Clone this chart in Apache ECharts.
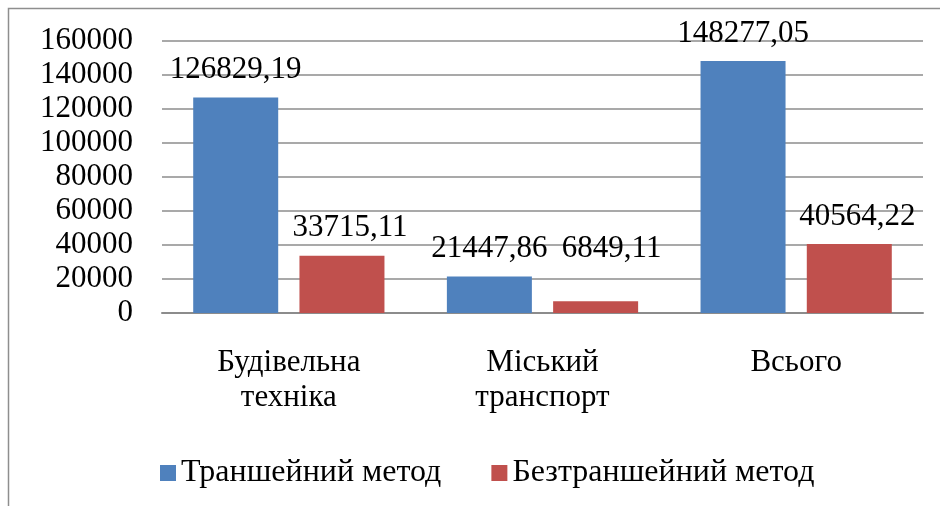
<!DOCTYPE html>
<html>
<head>
    <meta http-equiv="content-type" content="text/html;charset=utf-8" />
    <title>ECharts</title>
    <script src="https://cdn.jsdelivr.net/npm/echarts@6/dist/echarts.min.js"></script>
    <style>
        html, body { margin: 0; padding: 0; background: #fff; }
    </style>
</head>
<body>
    <div id="main" style="width: 940px;height:506px;"></div>
    <script type="text/javascript">
        var categories = ['Будівельна\nтехніка', 'Міський\nтранспорт', 'Всього'];
        var trenchValues = [126829.19, 21447.86, 148277.05];
        var trenchlessValues = [33715.11, 6849.11, 40564.22];
        var seriesNames = ['Траншейний метод', 'Безтраншейний метод'];

        var font = 'Liberation Serif';

        function fmt(v) {
            return v.toFixed(2).replace('.', ',');
        }

        var myChart = echarts.init(document.getElementById('main'));

        var option = {
            backgroundColor: '#fff',
            animation: false,
            textStyle: { fontFamily: font, color: '#000' },
            graphic: [{
                type: 'rect',
                shape: { x: 8.5, y: 8.5, width: 1000, height: 1000 },
                style: { fill: 'none', stroke: '#8e8e8e', lineWidth: 1.5 },
                silent: true
            }],
            grid: { left: 162, right: 17, top: 41, bottom: 193 },
            legend: {
                left: 155,
                top: 452,
                itemWidth: 16,
                itemHeight: 16,
                itemGap: 50,
                icon: 'rect',
                textStyle: { fontFamily: font, fontSize: 32, color: '#000' },
                data: seriesNames
            },
            xAxis: {
                type: 'category',
                data: categories,
                axisLine: { lineStyle: { color: '#8c8c8c', width: 2 } },
                axisTick: { show: false },
                axisLabel: {
                    fontFamily: font, fontSize: 31, color: '#000',
                    lineHeight: 35, margin: 32
                }
            },
            yAxis: {
                type: 'value',
                min: 0,
                max: 160000,
                interval: 20000,
                axisLine: { show: false },
                axisTick: { show: false },
                splitLine: { lineStyle: { color: '#8c8c8c', width: 1.5 } },
                axisLabel: {
                    fontFamily: font, fontSize: 31, color: '#000', margin: 29,
                    formatter: function (v) { return String(v); }
                }
            },
            series: [{
                name: seriesNames[0],
                type: 'bar',
                barWidth: 85,
                barGap: '25%',
                itemStyle: { color: '#4F81BD' },
                label: {
                    show: true, position: 'top', distance: 12,
                    fontFamily: font, fontSize: 31, color: '#000',
                    formatter: function (p) { return fmt(p.value); }
                },
                data: trenchValues
            }, {
                name: seriesNames[1],
                type: 'bar',
                barWidth: 85,
                itemStyle: { color: '#C0504D' },
                label: {
                    show: true, position: 'top', distance: 12, offset: [8, 0],
                    fontFamily: font, fontSize: 31, color: '#000',
                    formatter: function (p) { return fmt(p.value); }
                },
                data: trenchlessValues.map(function (v, i) {
                    if (i === 1) {
                        return { value: v, label: { offset: [16, -25] } };
                    }
                    return v;
                })
            }]
        };

        myChart.setOption(option);
    </script>
</body>
</html>
